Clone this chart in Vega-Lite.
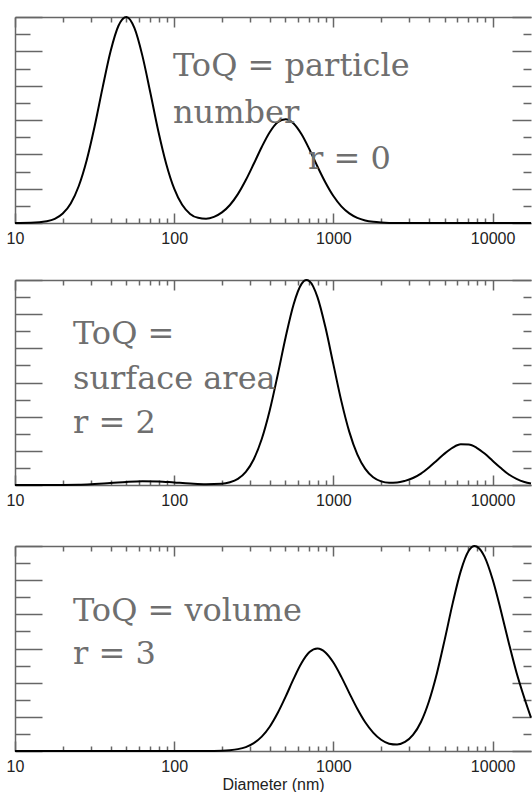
{
  "$schema": "https://vega.github.io/schema/vega-lite/v6.json",
  "background": "white",
  "padding": {"left": 6, "top": 13, "right": 0, "bottom": 0},
  "bounds": "flush",
  "spacing": 57,
  "config": {
    "view": {"stroke": null},
    "axis": {
      "minExtent": 0, "grid": false,
      "domainColor": "#666666", "tickColor": "#666666", "domainWidth": 1.5, "tickWidth": 1.5,
      "labelFont": "Liberation Sans", "labelFontSize": 16, "labelColor": "#222222",
      "titleFont": "Liberation Sans", "titleFontSize": 16, "titleFontWeight": "normal", "titleColor": "#222222",
      "labelOverlap": false, "labelFlush": false
    }
  },
  "datasets": {
    "number": [
      {"diameter": 10, "value": 0}, {"diameter": 12.59, "value": 0.01}, {"diameter": 15.85, "value": 0.10},
      {"diameter": 17.78, "value": 0.24}, {"diameter": 19.95, "value": 0.55}, {"diameter": 22.39, "value": 1.14},
      {"diameter": 25.12, "value": 2.14}, {"diameter": 28.18, "value": 3.64}, {"diameter": 31.62, "value": 5.62},
      {"diameter": 35.48, "value": 7.87}, {"diameter": 39.81, "value": 9.99}, {"diameter": 44.67, "value": 11.49},
      {"diameter": 50.12, "value": 12.0}, {"diameter": 56.23, "value": 11.36}, {"diameter": 63.10, "value": 9.75},
      {"diameter": 70.79, "value": 7.60}, {"diameter": 79.43, "value": 5.36}, {"diameter": 89.13, "value": 3.44},
      {"diameter": 100, "value": 2.00}, {"diameter": 112.2, "value": 1.06}, {"diameter": 125.9, "value": 0.53},
      {"diameter": 141.3, "value": 0.30}, {"diameter": 158.5, "value": 0.25}, {"diameter": 177.8, "value": 0.36},
      {"diameter": 199.5, "value": 0.62}, {"diameter": 223.9, "value": 1.05}, {"diameter": 251.2, "value": 1.68},
      {"diameter": 281.8, "value": 2.50}, {"diameter": 316.2, "value": 3.45}, {"diameter": 354.8, "value": 4.43},
      {"diameter": 398.1, "value": 5.29}, {"diameter": 446.7, "value": 5.87}, {"diameter": 501.2, "value": 6.05},
      {"diameter": 562.3, "value": 5.80}, {"diameter": 631.0, "value": 5.17}, {"diameter": 707.9, "value": 4.28},
      {"diameter": 794.3, "value": 3.29}, {"diameter": 891.3, "value": 2.36}, {"diameter": 1000, "value": 1.57},
      {"diameter": 1122, "value": 0.97}, {"diameter": 1259, "value": 0.56}, {"diameter": 1413, "value": 0.30},
      {"diameter": 1585, "value": 0.15}, {"diameter": 1778, "value": 0.07}, {"diameter": 1995, "value": 0.03},
      {"diameter": 2512, "value": 0}, {"diameter": 10000, "value": 0}, {"diameter": 17430, "value": 0}
    ],
    "surface": [
      {"diameter": 10, "value": 0}, {"diameter": 15.85, "value": 0}, {"diameter": 25.12, "value": 0.02},
      {"diameter": 31.62, "value": 0.06}, {"diameter": 39.81, "value": 0.11}, {"diameter": 50.12, "value": 0.18},
      {"diameter": 63.10, "value": 0.22}, {"diameter": 79.43, "value": 0.21}, {"diameter": 100, "value": 0.15},
      {"diameter": 125.9, "value": 0.09}, {"diameter": 158.5, "value": 0.05}, {"diameter": 199.5, "value": 0.07},
      {"diameter": 223.9, "value": 0.16}, {"diameter": 251.2, "value": 0.36}, {"diameter": 281.8, "value": 0.77},
      {"diameter": 316.2, "value": 1.51}, {"diameter": 354.8, "value": 2.69}, {"diameter": 398.1, "value": 4.36},
      {"diameter": 446.7, "value": 6.44}, {"diameter": 501.2, "value": 8.65}, {"diameter": 562.3, "value": 10.57},
      {"diameter": 631.0, "value": 11.77}, {"diameter": 676.1, "value": 12.0}, {"diameter": 707.9, "value": 11.93},
      {"diameter": 794.3, "value": 11.0}, {"diameter": 891.3, "value": 9.23}, {"diameter": 1000, "value": 7.06},
      {"diameter": 1122, "value": 4.91}, {"diameter": 1259, "value": 3.11}, {"diameter": 1413, "value": 1.79},
      {"diameter": 1585, "value": 0.94}, {"diameter": 1778, "value": 0.45}, {"diameter": 1995, "value": 0.21},
      {"diameter": 2239, "value": 0.13}, {"diameter": 2512, "value": 0.14}, {"diameter": 2818, "value": 0.24},
      {"diameter": 3162, "value": 0.41}, {"diameter": 3548, "value": 0.67}, {"diameter": 3981, "value": 1.03},
      {"diameter": 4467, "value": 1.44}, {"diameter": 5012, "value": 1.85}, {"diameter": 5623, "value": 2.19},
      {"diameter": 6310, "value": 2.38}, {"diameter": 7079, "value": 2.37}, {"diameter": 7943, "value": 2.18},
      {"diameter": 8913, "value": 1.84}, {"diameter": 10000, "value": 1.42}, {"diameter": 11220, "value": 1.01},
      {"diameter": 12590, "value": 0.63}, {"diameter": 14130, "value": 0.36}, {"diameter": 15850, "value": 0.18},
      {"diameter": 17430, "value": 0.09}
    ],
    "volume": [
      {"diameter": 10, "value": 0}, {"diameter": 100, "value": 0}, {"diameter": 158.5, "value": 0},
      {"diameter": 199.5, "value": 0.02}, {"diameter": 223.9, "value": 0.05}, {"diameter": 251.2, "value": 0.11},
      {"diameter": 281.8, "value": 0.23}, {"diameter": 316.2, "value": 0.46}, {"diameter": 354.8, "value": 0.84},
      {"diameter": 398.1, "value": 1.42}, {"diameter": 446.7, "value": 2.22}, {"diameter": 501.2, "value": 3.18},
      {"diameter": 562.3, "value": 4.22}, {"diameter": 631.0, "value": 5.15}, {"diameter": 707.9, "value": 5.79},
      {"diameter": 794.3, "value": 6.00}, {"diameter": 891.3, "value": 5.77}, {"diameter": 1000, "value": 5.18},
      {"diameter": 1122, "value": 4.34}, {"diameter": 1259, "value": 3.39}, {"diameter": 1413, "value": 2.47},
      {"diameter": 1585, "value": 1.68}, {"diameter": 1778, "value": 1.08}, {"diameter": 1995, "value": 0.66},
      {"diameter": 2239, "value": 0.43}, {"diameter": 2512, "value": 0.38}, {"diameter": 2818, "value": 0.53},
      {"diameter": 3162, "value": 0.94}, {"diameter": 3548, "value": 1.70}, {"diameter": 3981, "value": 2.90},
      {"diameter": 4467, "value": 4.54}, {"diameter": 5012, "value": 6.55}, {"diameter": 5623, "value": 8.67},
      {"diameter": 6310, "value": 10.53}, {"diameter": 7079, "value": 11.72}, {"diameter": 7709, "value": 12.0},
      {"diameter": 7943, "value": 11.97}, {"diameter": 8913, "value": 11.36}, {"diameter": 10000, "value": 10.05},
      {"diameter": 11220, "value": 8.30}, {"diameter": 12590, "value": 6.40}, {"diameter": 14130, "value": 4.60},
      {"diameter": 15850, "value": 3.09}, {"diameter": 17430, "value": 1.95}
    ],
    "labels": [
      {"panel": "number", "label": "ToQ = particle", "diameter": 98.3, "value": 8.56},
      {"panel": "number", "label": "number", "diameter": 98.3, "value": 5.82},
      {"panel": "number", "label": "r = 0", "diameter": 692.6, "value": 3.15},
      {"panel": "surface", "label": "ToQ =", "diameter": 23.14, "value": 8.26},
      {"panel": "surface", "label": "surface area", "diameter": 23.14, "value": 5.62},
      {"panel": "surface", "label": "r = 2", "diameter": 23.14, "value": 3.04},
      {"panel": "volume", "label": "ToQ = volume", "diameter": 23.14, "value": 7.61},
      {"panel": "volume", "label": "r = 3", "diameter": 23.14, "value": 5.09}
    ]
  },
  "vconcat": [
    {
      "width": 516, "height": 206,
      "layer": [
        {
          "data": {"name": "number"},
          "mark": {"type": "line", "interpolate": "monotone", "color": "black", "strokeWidth": 2},
          "encoding": {
            "x": {"field": "diameter", "type": "quantitative", "scale": {"type": "log", "domain": [10, 17430], "nice": false},
              "axis": {"orient": "bottom", "title": null, "labelPadding": 17,
                "values": [10,20,30,40,50,60,70,80,90,100,200,300,400,500,600,700,800,900,1000,2000,3000,4000,5000,6000,7000,8000,9000,10000],
                "labelExpr": "(datum.value==10||datum.value==100||datum.value==1000||datum.value==10000) ? format(datum.value,'d') : ''",
                "tickSize": {"condition": {"test": "datum.value==10||datum.value==100||datum.value==1000||datum.value==10000", "value": -10}, "value": -5}}},
            "y": {"field": "value", "type": "quantitative", "scale": {"domain": [0, 12], "nice": false, "zero": false},
              "axis": {"orient": "left", "title": null, "labels": false, "values": [0,1,2,3,4,5,6,7,8,9,10,11,12],
                "tickSize": {"condition": {"test": "datum.value % 2 == 0", "value": -27}, "value": -15}}}
          }
        },
        {
          "data": {"name": "labels"},
          "transform": [{"filter": "datum.panel == 'number'"}],
          "mark": {"type": "text", "align": "left", "baseline": "alphabetic", "font": "DejaVu Serif", "fontSize": 32, "color": "#6f6f6f"},
          "encoding": {
            "x": {"field": "diameter", "type": "quantitative",
              "axis": {"orient": "top", "title": null, "labels": false,
                "values": [10,20,30,40,50,60,70,80,90,100,200,300,400,500,600,700,800,900,1000,2000,3000,4000,5000,6000,7000,8000,9000,10000],
                "tickSize": {"condition": {"test": "datum.value==10||datum.value==100||datum.value==1000||datum.value==10000", "value": -10}, "value": -5}}},
            "y": {"field": "value", "type": "quantitative",
              "axis": {"orient": "right", "title": null, "labels": false, "domain": false, "values": [0,1,2,3,4,5,6,7,8,9,10,11,12],
                "tickSize": {"condition": {"test": "datum.value % 2 == 0", "value": -19}, "value": -8}}},
            "text": {"field": "label"}
          }
        }
      ],
      "resolve": {"axis": {"x": "independent", "y": "independent"}}
    },
    {
      "bounds": "flush",
      "spacing": 61,
      "vconcat": [
        {
          "width": 516, "height": 205,
          "layer": [
            {
              "data": {"name": "surface"},
              "mark": {"type": "line", "interpolate": "monotone", "color": "black", "strokeWidth": 2},
              "encoding": {
                "x": {"field": "diameter", "type": "quantitative", "scale": {"type": "log", "domain": [10, 17430], "nice": false},
                  "axis": {"orient": "bottom", "title": null, "labelPadding": 17,
                    "values": [10,20,30,40,50,60,70,80,90,100,200,300,400,500,600,700,800,900,1000,2000,3000,4000,5000,6000,7000,8000,9000,10000],
                    "labelExpr": "(datum.value==10||datum.value==100||datum.value==1000||datum.value==10000) ? format(datum.value,'d') : ''",
                    "tickSize": {"condition": {"test": "datum.value==10||datum.value==100||datum.value==1000||datum.value==10000", "value": -10}, "value": -5}}},
                "y": {"field": "value", "type": "quantitative", "scale": {"domain": [0, 12], "nice": false, "zero": false},
                  "axis": {"orient": "left", "title": null, "labels": false, "values": [0,1,2,3,4,5,6,7,8,9,10,11,12],
                    "tickSize": {"condition": {"test": "datum.value % 2 == 0", "value": -27}, "value": -15}}}
              }
            },
            {
              "data": {"name": "labels"},
              "transform": [{"filter": "datum.panel == 'surface'"}],
              "mark": {"type": "text", "align": "left", "baseline": "alphabetic", "font": "DejaVu Serif", "fontSize": 32, "color": "#6f6f6f"},
              "encoding": {
                "x": {"field": "diameter", "type": "quantitative",
                  "axis": {"orient": "top", "title": null, "labels": false,
                    "values": [10,20,30,40,50,60,70,80,90,100,200,300,400,500,600,700,800,900,1000,2000,3000,4000,5000,6000,7000,8000,9000,10000],
                    "tickSize": {"condition": {"test": "datum.value==10||datum.value==100||datum.value==1000||datum.value==10000", "value": -10}, "value": -5}}},
                "y": {"field": "value", "type": "quantitative",
                  "axis": {"orient": "right", "title": null, "labels": false, "domain": false, "values": [0,1,2,3,4,5,6,7,8,9,10,11,12],
                    "tickSize": {"condition": {"test": "datum.value % 2 == 0", "value": -19}, "value": -8}}},
                "text": {"field": "label"}
              }
            }
          ],
          "resolve": {"axis": {"x": "independent", "y": "independent"}}
        },
        {
          "width": 516, "height": 205,
          "layer": [
            {
              "data": {"name": "volume"},
              "mark": {"type": "line", "interpolate": "monotone", "color": "black", "strokeWidth": 2},
              "encoding": {
                "x": {"field": "diameter", "type": "quantitative", "scale": {"type": "log", "domain": [10, 17430], "nice": false},
                  "axis": {"orient": "bottom", "title": "Diameter (nm)", "titleY": 38.5, "titleBaseline": "alphabetic", "labelPadding": 17,
                    "values": [10,20,30,40,50,60,70,80,90,100,200,300,400,500,600,700,800,900,1000,2000,3000,4000,5000,6000,7000,8000,9000,10000],
                    "labelExpr": "(datum.value==10||datum.value==100||datum.value==1000||datum.value==10000) ? format(datum.value,'d') : ''",
                    "tickSize": {"condition": {"test": "datum.value==10||datum.value==100||datum.value==1000||datum.value==10000", "value": -10}, "value": -5}}},
                "y": {"field": "value", "type": "quantitative", "scale": {"domain": [0, 12], "nice": false, "zero": false},
                  "axis": {"orient": "left", "title": null, "labels": false, "values": [0,1,2,3,4,5,6,7,8,9,10,11,12],
                    "tickSize": {"condition": {"test": "datum.value % 2 == 0", "value": -27}, "value": -15}}}
              }
            },
            {
              "data": {"name": "labels"},
              "transform": [{"filter": "datum.panel == 'volume'"}],
              "mark": {"type": "text", "align": "left", "baseline": "alphabetic", "font": "DejaVu Serif", "fontSize": 32, "color": "#6f6f6f"},
              "encoding": {
                "x": {"field": "diameter", "type": "quantitative",
                  "axis": {"orient": "top", "title": null, "labels": false,
                    "values": [10,20,30,40,50,60,70,80,90,100,200,300,400,500,600,700,800,900,1000,2000,3000,4000,5000,6000,7000,8000,9000,10000],
                    "tickSize": {"condition": {"test": "datum.value==10||datum.value==100||datum.value==1000||datum.value==10000", "value": -10}, "value": -5}}},
                "y": {"field": "value", "type": "quantitative",
                  "axis": {"orient": "right", "title": null, "labels": false, "domain": false, "values": [0,1,2,3,4,5,6,7,8,9,10,11,12],
                    "tickSize": {"condition": {"test": "datum.value % 2 == 0", "value": -19}, "value": -8}}},
                "text": {"field": "label"}
              }
            }
          ],
          "resolve": {"axis": {"x": "independent", "y": "independent"}}
        }
      ]
    }
  ]
}
